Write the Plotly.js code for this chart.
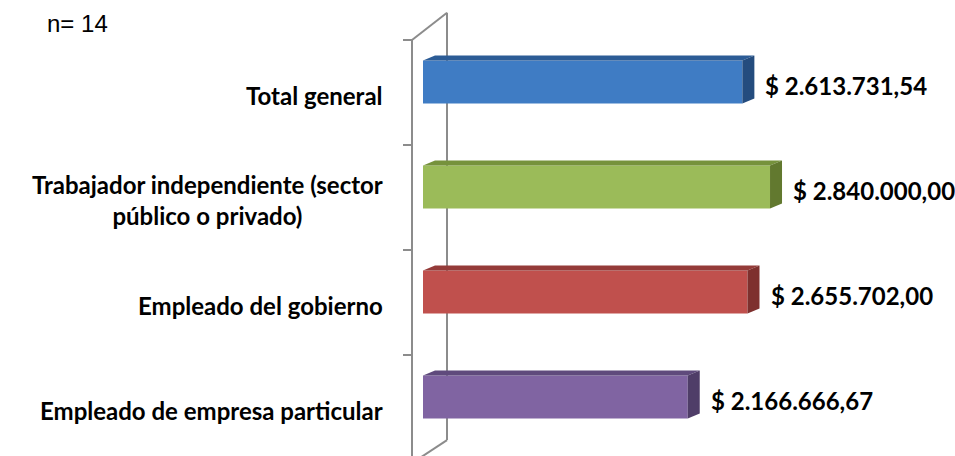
<!DOCTYPE html>
<html>
<head>
<meta charset="utf-8">
<script src="https://cdn.plot.ly/plotly-3.0.1.min.js"></script>
<style>html,body{margin:0;padding:0;background:#fff;}#chart{width:955px;height:456px;}</style>
</head>
<body>
<div id="chart"></div>
<script>
// Data (bottom to top)
const categories = [
  "Empleado de empresa particular",
  "Empleado del gobierno",
  "Trabajador independiente (sector<br>público o privado)",
  "Total general"
];
const values = [2166666.67, 2655702.00, 2840000.00, 2613731.54];
const valueLabels = ["$ 2.166.666,67", "$ 2.655.702,00", "$ 2.840.000,00", "$ 2.613.731,54"];
const frontColors = ["#8064A2", "#C0504D", "#9BBB59", "#3F7CC4"];
const topColors   = ["#5F4A7C", "#943B39", "#76923C", "#2C5C96"];
const sideColors  = ["#4F3D68", "#7E302E", "#62792F", "#244C7E"];

// layout geometry
const W = 955, H = 456;
const mL = 400, mR = 10;
const unitsPerPx = 8184;           // x scale
const x0px = 423;                   // pixel where value 0 sits
const xMin = -(x0px - mL) * unitsPerPx;
const xMax = (W - mR - x0px) * unitsPerPx;
const pxPerCat = 105;
const yCenterPx = 239.5;            // pixel of y=1.5
const yMax = 1.5 + yCenterPx / pxPerCat;
const yMin = 1.5 - (H - yCenterPx) / pxPerCat;

const barW = 0.41;
const dX = 12 * unitsPerPx;         // depth, x
const dY = 5 / pxPerCat;            // depth, y

const ypos = categories.map((c, i) => i);

const shapes = [];
// wall (category axis plane)
const wf = -11 * unitsPerPx, wb = 24 * unitsPerPx, wt = -9 * unitsPerPx;
const wallOff = 0.1, backDy = 0.26;
const lineStyle = {color: "#8c8c8c", width: 2};
const yTopF = categories.length - 0.5 - wallOff;
const yBotF = -0.5 - wallOff - 0.03;
shapes.push({type: "line", xref: "x", yref: "y", x0: wf, x1: wf, y0: yBotF, y1: yTopF, line: lineStyle, layer: "below"});
shapes.push({type: "line", xref: "x", yref: "y", x0: wb, x1: wb, y0: yBotF + backDy - 0.04, y1: yTopF + backDy, line: lineStyle, layer: "below"});
shapes.push({type: "line", xref: "x", yref: "y", x0: wf, x1: wb, y0: yTopF, y1: yTopF + backDy, line: lineStyle, layer: "below"});
shapes.push({type: "line", xref: "x", yref: "y", x0: wf, x1: wb, y0: yBotF, y1: yBotF + backDy - 0.04, line: lineStyle, layer: "below"});
for (let k = 0; k <= categories.length; k++) {
  const yy = k - 0.5 - wallOff;
  shapes.push({type: "line", xref: "x", yref: "y", x0: wf + wt, x1: wf, y0: yy, y1: yy, line: lineStyle, layer: "below"});
}
// 3D faces of bars
values.forEach((v, i) => {
  const yt = i + barW / 2, yb = i - barW / 2;
  shapes.push({
    type: "path", xref: "x", yref: "y", layer: "above",
    path: `M ${0},${yt} L ${v},${yt} L ${v + dX},${yt + dY} L ${dX},${yt + dY} Z`,
    fillcolor: topColors[i], line: {width: 0}
  });
  shapes.push({
    type: "path", xref: "x", yref: "y", layer: "above",
    path: `M ${v},${yb} L ${v + dX},${yb + dY} L ${v + dX},${yt + dY} L ${v},${yt} Z`,
    fillcolor: sideColors[i], line: {width: 0}
  });
});

const labelFont = {family: "Lato, 'Noto Sans', sans-serif", size: 24, color: "#000"};
const annotations = [];
categories.forEach((c, i) => {
  annotations.push({
    xref: "paper", yref: "y", x: 0, y: i, xanchor: "right", yanchor: "middle",
    xshift: -15, yshift: -13, text: "<b>" + c + "</b>", showarrow: false, align: "center",
    font: labelFont
  });
  annotations.push({
    xref: "x", yref: "y", x: values[i] + dX, y: i, xanchor: "left", yanchor: "middle",
    xshift: 9, yshift: -3, text: "<b>" + valueLabels[i] + "</b>", showarrow: false,
    font: labelFont
  });
});
annotations.push({
  xref: "paper", yref: "paper", x: -mL / (W - mL - mR) + 45 / (W - mL - mR), y: 1,
  xanchor: "left", yanchor: "top", yshift: -8, text: "n= 14", showarrow: false,
  font: {family: "'Liberation Sans', Arial, sans-serif", size: 24, color: "#000"}
});

const trace = {
  type: "bar", orientation: "h",
  x: values, y: ypos, base: 0, width: barW,
  marker: {color: frontColors, line: {width: 0}},
  hoverinfo: "skip"
};

const layout = {
  width: W, height: H,
  margin: {l: mL, r: mR, t: 0, b: 0, pad: 0},
  paper_bgcolor: "#fff", plot_bgcolor: "rgba(0,0,0,0)",
  showlegend: false,
  xaxis: {range: [xMin, xMax], visible: false, fixedrange: true},
  yaxis: {range: [yMin, yMax], visible: false, fixedrange: true},
  shapes: shapes,
  annotations: annotations
};

Plotly.newPlot("chart", [trace], layout, {displayModeBar: false, staticPlot: true});
</script>
</body>
</html>
